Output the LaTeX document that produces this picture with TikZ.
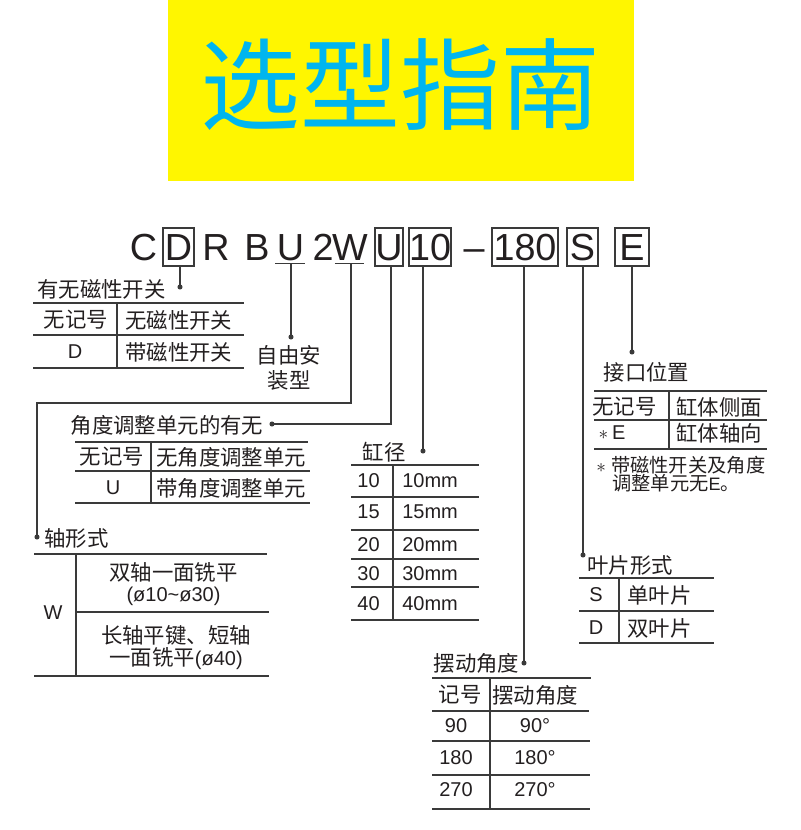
\documentclass[tikz,border=0pt]{standalone}
\usepackage{fontspec}
\setmainfont{Liberation Sans}
\newfontfamily\cjk{Noto Sans CJK SC}[Scale=1.07]
\newcommand\zhtext[1]{{\cjk #1}}
\newcommand\pxu{0.75pt}
\definecolor{ink}{HTML}{231F20}
\definecolor{rulec}{HTML}{3A3A3A}
\definecolor{titleblue}{HTML}{00B5EF}
\definecolor{titleyellow}{HTML}{FFF600}
\tikzset{
  ln/.style={draw=rulec, line width=1pt},
  code/.style={font=\fontsize{28.3}{34}\selectfont, text=ink, inner sep=0pt, text height=20.2pt, text depth=0pt},
  codebox/.style={code, draw=rulec, line width=1pt, minimum height=28.5pt},
  lt/.style={font=\fontsize{15}{18}\selectfont, text=ink, inner sep=0pt},
  cj/.style={font=\fontsize{15}{18.75}\selectfont\cjk, text=ink, inner sep=0pt},
  ntx/.style={font=\fontsize{13.5}{16}\selectfont, text=ink, inner sep=0pt},
  dotmark/.style={fill=rulec}
}
\begin{document}
\begin{tikzpicture}[x=0.75pt,y=-0.75pt]
\useasboundingbox (0,0) rectangle (800,830);
\fill[white] (0,0) rectangle (800,830);
% banner
\node[fill=titleyellow, minimum width=466*\pxu, minimum height=181*\pxu, inner sep=0pt, anchor=north west] (banner) at (168,0) {};
\node[font=\fontsize{70}{80}\selectfont\cjk, text=titleblue, inner sep=0pt] (title) at (400.5,85) {选型指南};
% code line
\node[code] (cC) at (143.5,247) {C};
\node[codebox, minimum width=31*\pxu] (bD) at (178.5,247) {D};
\node[code] (cR) at (216,247) {R};
\node[code] (cB) at (257,247) {B};
\node[code, inner ysep=1.9pt] (uU) at (290.5,247) {U};
\node[code] (c2) at (323,247) {2};
\node[code, inner ysep=1.9pt] (uW) at (350,247) {W};
\node[codebox, minimum width=28*\pxu] (bU) at (389,247) {U};
\node[codebox, minimum width=42*\pxu] (b10) at (430,247) {10};
\node[code] (cdash) at (474,247) {–};
\node[codebox, minimum width=66*\pxu] (b180) at (525,247) {180};
\node[codebox, minimum width=31*\pxu] (bS) at (582.5,247) {S};
\node[codebox, minimum width=34*\pxu] (bE) at (632,247) {E};
\draw[ln] ([xshift=-1pt]uU.south west) -- ([xshift=0.5pt]uU.south east);
\draw[ln] ([xshift=2.2pt]uW.south west) -- ([xshift=-3pt]uW.south east);
% dots and corners
\coordinate (dD) at (180,287);
\coordinate (dU1) at (291,337);
\coordinate (kW) at (351,403);
\coordinate (dW) at (37,537);
\coordinate (kU) at (391,424);
\coordinate (dU) at (272,424);
\coordinate (d10) at (423,451);
\coordinate (d180) at (524,663);
\coordinate (dS) at (583,555);
\coordinate (dE) at (632,352);
\draw[ln] (bD.south -| dD) -- (dD);
\draw[ln] (uU.south -| dU1) -- (dU1);
\draw[ln] (uW.south -| kW) -- (kW) -| (dW);
\draw[ln] (bU.south -| kU) -- (kU) -- (dU);
\draw[ln] (b10.south -| d10) -- (d10);
\draw[ln] (b180.south -| d180) -- (d180);
\draw[ln] (bS.south -| dS) -- (dS);
\draw[ln] (bE.south -| dE) -- (dE);
\foreach \d in {dD,dU1,dW,dU,d10,d180,dS,dE} \fill[dotmark] (\d) circle (1.9pt);
% labels
\node[cj] (lD) at (101.5,289) {有无磁性开关};
\node[cj, align=center] (lFree) at (289,367.5) {自由安\\装型};
\node[cj] (lW) at (76.5,538) {轴形式};
\node[cj] (lU) at (167,425) {角度调整单元的有无};
\node[cj] (l10) at (384,452) {缸径};
\node[cj] (l180) at (476.5,663) {摆动角度};
\node[cj] (lS) at (630,565) {叶片形式};
\node[cj] (lE) at (646.5,372) {接口位置};
% table 1: magnetic switch
\draw[ln] (33,303) -- (244,303) (33,335) -- (244,335) (33,368) -- (244,368) (117,303) -- (117,368);
\node[cj] (m11) at (76,320) {无记号};
\node[cj, anchor=west] (m12) at (125,320) {无磁性开关};
\node[lt] (m21) at (75,352) {D};
\node[cj, anchor=west] (m22) at (125,352) {带磁性开关};
% table 2: angle adjust unit
\draw[ln] (75,442) -- (308,442) (75,471) -- (310,471) (75,503) -- (310,503) (151,442) -- (151,503);
\node[cj] (a11) at (112,457) {无记号};
\node[cj, anchor=west] (a12) at (156,457) {无角度调整单元};
\node[lt] (a21) at (113,488) {U};
\node[cj, anchor=west] (a22) at (156,488) {带角度调整单元};
% table 3: shaft
\draw[ln] (34,554) -- (267,554) (76,612) -- (269,612) (34,676) -- (269,676) (76,554) -- (76,676);
\node[lt] (w0) at (53,613) {W};
\node[cj] (w1a) at (173.5,572) {双轴一面铣平};
\node[lt] (w1b) at (173.5,596) {(ø10\textasciitilde ø30)};
\node[cj] (w2a) at (176,635) {长轴平键、短轴};
\node[lt] (w2b) at (176,659) {\zhtext{一面铣平}(ø40)};
% table 4: bore
\draw[ln] (351,465) -- (479,465) (351,497) -- (479,497) (351,530) -- (479,530) (351,559) -- (479,559) (351,587) -- (479,587) (351,620) -- (479,620) (393,465) -- (393,620);
\node[lt] (r1a) at (368.5,481) {10};
\node[lt, anchor=west] (r1b) at (402,481) {10mm};
\node[lt] (r2a) at (368.5,512) {15};
\node[lt, anchor=west] (r2b) at (402,512) {15mm};
\node[lt] (r3a) at (368.5,545) {20};
\node[lt, anchor=west] (r3b) at (402,545) {20mm};
\node[lt] (r4a) at (368.5,574) {30};
\node[lt, anchor=west] (r4b) at (402,574) {30mm};
\node[lt] (r5a) at (368.5,604) {40};
\node[lt, anchor=west] (r5b) at (402,604) {40mm};
% table 5: swing angle
\draw[ln] (432,678) -- (591,678) (432,711) -- (589,711) (432,741) -- (590,741) (432,775) -- (590,775) (432,809) -- (590,809) (490,678) -- (490,809);
\node[cj] (s11) at (460,695) {记号};
\node[cj] (s12) at (535,695) {摆动角度};
\node[lt] (s21) at (456,726) {90};
\node[lt] (s22) at (535,726) {90°};
\node[lt] (s31) at (456,758) {180};
\node[lt] (s32) at (535,758) {180°};
\node[lt] (s41) at (456,790) {270};
\node[lt] (s42) at (535,790) {270°};
% table 6: vane
\draw[ln] (579,578) -- (714,578) (579,611) -- (714,611) (579,643) -- (714,643) (619,578) -- (619,643);
\node[lt] (v11) at (596,595) {S};
\node[cj, anchor=west] (v12) at (627,595) {单叶片};
\node[lt] (v21) at (596,628) {D};
\node[cj, anchor=west] (v22) at (627,628) {双叶片};
% table 7: port position
\draw[ln] (594,391) -- (767,391) (594,420) -- (767,420) (594,449) -- (767,449) (669,391) -- (669,449);
\node[cj] (p11) at (624.5,407) {无记号};
\node[cj] (p12) at (719,407) {缸体侧面};
\node[lt] (p21) at (612,433) {$\ast$\kern3pt E};
\node[cj] (p22) at (719,433) {缸体轴向};
\node[ntx, anchor=west] (n1) at (596,465) {$\ast$\kern4pt\zhtext{带磁性开关及角度}};
\node[ntx, anchor=west] (n2) at (612,483) {\zhtext{调整单元无}E\zhtext{。}};
\end{tikzpicture}
\end{document}
